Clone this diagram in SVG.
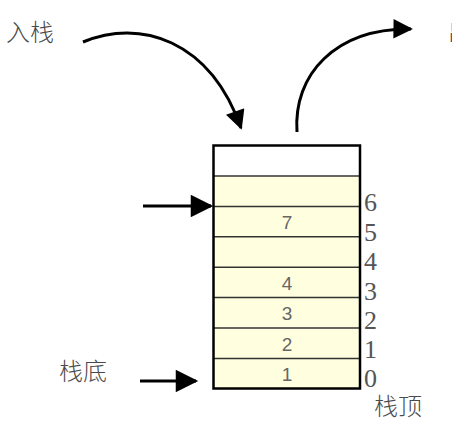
<svg xmlns="http://www.w3.org/2000/svg" width="452" height="433" viewBox="0 0 452 433">
<defs>
<style>
.cjk{font-family:"Noto Sans CJK SC","Noto Sans",sans-serif;font-size:24px;fill:#4a4a4a;font-weight:300}
.num{font-family:"Liberation Sans",Arial,sans-serif;font-size:19px;fill:#666;text-anchor:middle}
.idx{font-family:"Liberation Serif","Times New Roman",serif;font-size:26px;fill:#555}
.sep{stroke:#333;stroke-width:1.5}
.conn{fill:none;stroke:#000;stroke-width:3}
</style>
<marker id="ah" viewBox="0 0 10 10" refX="9" refY="5" markerWidth="7" markerHeight="6.5" markerUnits="strokeWidth" orient="auto">
<path d="M0,0 L10,5 L0,10 z" fill="#000"/>
</marker>
<marker id="ah2" viewBox="0 0 10 10" refX="9" refY="5" markerWidth="8" markerHeight="7.5" markerUnits="strokeWidth" orient="auto">
<path d="M0,0 L10,5 L0,10 z" fill="#000"/>
</marker>
</defs>
<rect width="452" height="433" fill="#fff"/>

<g id="stack">
<rect x="213.5" y="145.5" width="146.5" height="243" fill="#ffffe0"/>
<rect x="213.5" y="145.5" width="146.5" height="30.5" fill="#fff"/>
<line class="sep" x1="214" y1="176" x2="360" y2="176"/>
<line class="sep" x1="214" y1="206.4" x2="360" y2="206.4"/>
<line class="sep" x1="214" y1="236.8" x2="360" y2="236.8"/>
<line class="sep" x1="214" y1="267.2" x2="360" y2="267.2"/>
<line class="sep" x1="214" y1="297.6" x2="360" y2="297.6"/>
<line class="sep" x1="214" y1="328" x2="360" y2="328"/>
<line class="sep" x1="214" y1="358.4" x2="360" y2="358.4"/>
<rect x="213.5" y="145.5" width="146.5" height="243" fill="none" stroke="#000" stroke-width="2.5"/>
<text class="num" x="287" y="229">7</text>
<text class="num" x="287" y="290">4</text>
<text class="num" x="287" y="320">3</text>
<text class="num" x="287" y="351">2</text>
<text class="num" x="287" y="381">1</text>
</g>

<g id="indices">
<text class="idx" x="364" y="211">6</text>
<text class="idx" x="364" y="241">5</text>
<text class="idx" x="364" y="270">4</text>
<text class="idx" x="364" y="300">3</text>
<text class="idx" x="364" y="329">2</text>
<text class="idx" x="364" y="358">1</text>
<text class="idx" x="364" y="387">0</text>
</g>

<g id="labels">
<text class="cjk" x="6" y="41">入栈</text>
<text class="cjk" x="448" y="41">出栈</text>
<text class="cjk" x="59" y="380">栈底</text>
<text class="cjk" x="374" y="415">栈顶</text>
</g>

<g id="connectors">
<path class="conn" d="M83,42 C140,18 210,40 241,128" marker-end="url(#ah)"/>
<path class="conn" d="M297,132 C293,75 335,28 411,29" marker-end="url(#ah)"/>
<line class="conn" x1="143" y1="206" x2="211" y2="206" stroke-width="2.6" marker-end="url(#ah2)"/>
<line class="conn" x1="140" y1="381" x2="196" y2="381" stroke-width="2.6" marker-end="url(#ah2)"/>
</g>
</svg>
